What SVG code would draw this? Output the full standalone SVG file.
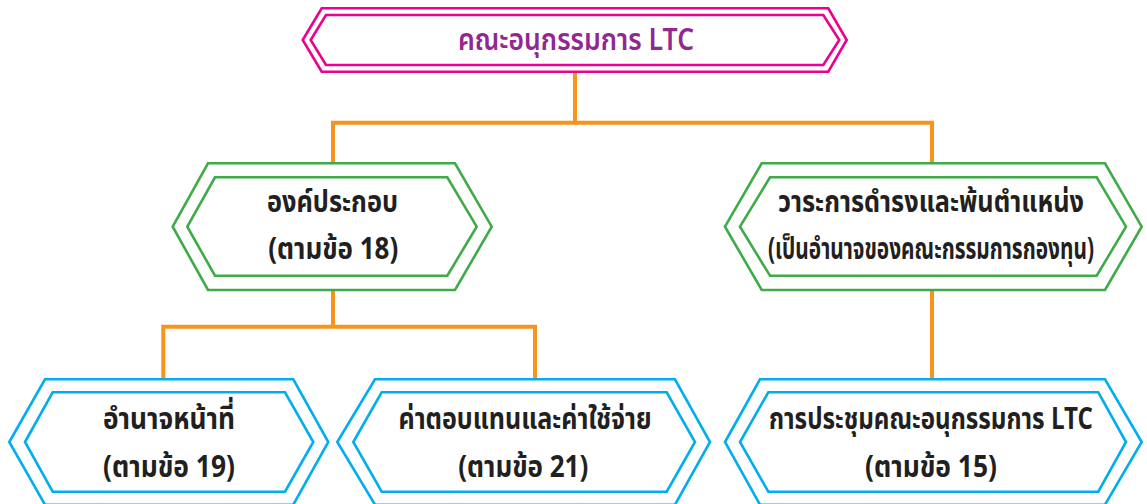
<svg xmlns="http://www.w3.org/2000/svg" width="1147" height="504" viewBox="0 0 1147 504">
<style>
.pink{fill:none;stroke:#EC008C;stroke-width:2.6}
.green{fill:none;stroke:#3FAA48;stroke-width:2.6}
.blue{fill:none;stroke:#00AEEF;stroke-width:2.6}
.conn{fill:none;stroke:#F7941D;stroke-width:4;stroke-linejoin:miter}
.t{font-family:"Noto Sans Thai","Noto Sans","DejaVu Sans",sans-serif;font-weight:bold;font-size:30px;fill:#231F20;text-anchor:middle}
.top{font-family:"Noto Sans Thai","Noto Sans","DejaVu Sans",sans-serif;font-weight:600;font-size:31px;fill:#92278F;text-anchor:middle}
</style>
<rect width="1147" height="504" fill="#FFFFFF"/>
<g id="connectors">
<path class="conn" d="M575,72 V122.7 M333,163.3 V122.7 H932 V163.3"/>
<path class="conn" d="M333,290 V326.7 M163.3,379.3 V326.7 H535 V379.3"/>
<path class="conn" d="M932,290 V379.3"/>
</g>
<g id="node-ltc">
<polygon class="pink" points="302.7,40 321.7,8.3 828.3,8.3 846.7,40 828.3,71.7 321.7,71.7"/>
<polygon class="pink" points="310.7,40 326,15 823.3,15 839.3,40 823.3,65 326,65"/>
<text class="top" x="576" y="50" textLength="236" lengthAdjust="spacingAndGlyphs">คณะอนุกรรมการ LTC</text>
</g>
<g id="node-composition">
<polygon class="green" points="172.7,226.7 208,163.3 455,163.3 491.7,226.7 455,290 208,290"/>
<polygon class="green" points="187.3,226.7 215,177.3 447.3,177.3 476.7,226.7 447.3,275.7 215,275.7"/>
<text class="t" x="332.5" y="212" textLength="131" lengthAdjust="spacingAndGlyphs">องค์ประกอบ</text>
<text class="t" x="333.3" y="258.5" textLength="130" lengthAdjust="spacingAndGlyphs">(ตามข้อ 18)</text>
</g>
<g id="node-term">
<polygon class="green" points="725,226.7 761.7,163.3 1105,163.3 1141.7,226.7 1105,290 761.7,290"/>
<polygon class="green" points="740,226.7 770,177.3 1096.7,177.3 1126,226.7 1096.7,275.7 770,275.7"/>
<text class="t" x="931" y="212" textLength="306" lengthAdjust="spacingAndGlyphs">วาระการดำรงและพ้นตำแหน่ง</text>
<text class="t" x="931" y="258.5" textLength="326" lengthAdjust="spacingAndGlyphs">(เป็นอำนาจของคณะกรรมการกองทุน)</text>
</g>
<g id="node-duties">
<polygon class="blue" points="9.3,442 45,379.3 293.3,379.3 328.3,442 293.3,504.7 45,504.7"/>
<polygon class="blue" points="25,442 52.7,392.3 285,392.3 313.3,442 285,491.7 52.7,491.7"/>
<text class="t" x="169" y="428.5" textLength="132" lengthAdjust="spacingAndGlyphs">อำนาจหน้าที่</text>
<text class="t" x="169" y="477" textLength="132" lengthAdjust="spacingAndGlyphs">(ตามข้อ 19)</text>
</g>
<g id="node-compensation">
<polygon class="blue" points="337.3,442 375,379.3 675,379.3 710,442 675,504.7 375,504.7"/>
<polygon class="blue" points="353.3,442 381.7,392.3 666.7,392.3 695,442 666.7,491.7 381.7,491.7"/>
<text class="t" x="525" y="428.5" textLength="253" lengthAdjust="spacingAndGlyphs">ค่าตอบแทนและค่าใช้จ่าย</text>
<text class="t" x="523.3" y="477" textLength="130" lengthAdjust="spacingAndGlyphs">(ตามข้อ 21)</text>
</g>
<g id="node-meeting">
<polygon class="blue" points="725,442 760,379.3 1105,379.3 1141.7,442 1105,504.7 760,504.7"/>
<polygon class="blue" points="740,442 768.3,392.3 1098.3,392.3 1126,442 1098.3,491.7 768.3,491.7"/>
<text class="t" x="931" y="428.5" textLength="324" lengthAdjust="spacingAndGlyphs">การประชุมคณะอนุกรรมการ LTC</text>
<text class="t" x="931" y="477" textLength="132" lengthAdjust="spacingAndGlyphs">(ตามข้อ 15)</text>
</g>
</svg>
